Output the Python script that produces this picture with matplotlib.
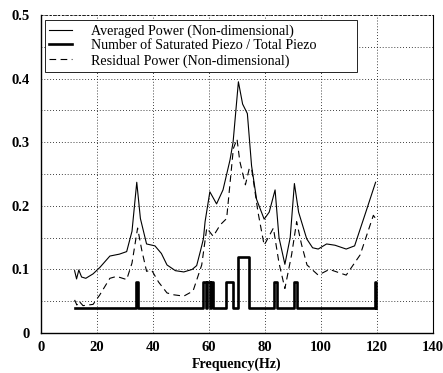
import matplotlib
matplotlib.use("Agg")
import matplotlib.pyplot as plt
import numpy as np

# Averaged power (non-dimensional) vs frequency
avg_freq = [12, 12.7, 13.5, 14.5, 16, 18.6, 21, 24.6, 28, 30.6, 32.5, 34.2, 35.5, 37.7,
            40.7, 43, 45, 48, 51, 54, 55.6, 57, 58, 58.6, 60.3, 62.7, 65, 67.5, 68.6,
            70.5, 72, 73.7, 75.2, 77, 79.7, 81.5, 83.6, 85, 87.1, 89, 90.5, 92, 94.9,
            97, 99, 102, 105, 109, 112, 116, 119.5]
avg_power = [0.098, 0.085, 0.099, 0.088, 0.086, 0.093, 0.103, 0.121, 0.124, 0.128, 0.16,
             0.237, 0.18, 0.14, 0.137, 0.125, 0.107, 0.098, 0.096, 0.1, 0.106, 0.13, 0.148,
             0.175, 0.222, 0.203, 0.225, 0.272, 0.3, 0.395, 0.36, 0.345, 0.263, 0.21, 0.179,
             0.19, 0.225, 0.15, 0.108, 0.15, 0.235, 0.19, 0.148, 0.134, 0.132, 0.14, 0.138,
             0.132, 0.137, 0.19, 0.237]

# Residual power (non-dimensional) vs frequency
res_freq = [12, 12.8, 13.6, 15, 18.6, 21, 24.6, 27, 30.6, 32.5, 34.5, 36, 37.7, 39.5,
            42, 45, 47.5, 51, 54.3, 57.4, 59.2, 61.5, 64, 66.3, 68.7, 70, 71, 73, 74.4,
            75.2, 77.5, 79.7, 83, 85, 87.1, 89.5, 91.3, 93, 95, 99, 103, 109, 114, 118.7, 119.5]
res_power = [0.052, 0.044, 0.05, 0.043, 0.045, 0.06, 0.086, 0.089, 0.084, 0.11, 0.165,
             0.13, 0.097, 0.099, 0.08, 0.063, 0.06, 0.058, 0.066, 0.107, 0.165, 0.152,
             0.17, 0.18, 0.29, 0.305, 0.27, 0.233, 0.259, 0.259, 0.19, 0.138, 0.165,
             0.11, 0.07, 0.123, 0.175, 0.14, 0.107, 0.091, 0.1, 0.091, 0.123, 0.185, 0.18]

# Number of saturated piezo / total piezo (piecewise constant, steps-post)
sat_freq = [12, 33.8, 34.8, 58, 58.9, 59.4, 60.3, 60.8, 61.5, 66, 68.6, 70.2, 74.3,
            83.3, 84.3, 90.2, 91.4, 119.3, 119.8]
sat_ratio = [0.04, 0.08, 0.04, 0.08, 0.04, 0.08, 0.04, 0.08, 0.04, 0.08, 0.04, 0.12, 0.04,
             0.08, 0.04, 0.08, 0.04, 0.08, 0.04]

x_ticks = [0, 20, 40, 60, 80, 100, 120, 140]
y_ticks = [0, 0.1, 0.2, 0.3, 0.4, 0.5]
y_tick_labels = ["0", "0.1", "0.2", "0.3", "0.4", "0.5"]

plt.rcParams["font.family"] = ["Liberation Serif", "DejaVu Serif"]

fig = plt.figure(figsize=(4.43, 3.73), dpi=100)
ax = fig.add_axes([41 / 443, 40 / 373, 392 / 443, 318 / 373])

ax.plot(avg_freq, avg_power, color="black", lw=0.8,
        label="Averaged Power (Non-dimensional)")
ax.plot(sat_freq, sat_ratio, color="black", lw=1.9, drawstyle="steps-post",
        label="Number of Saturated Piezo / Total Piezo")
ax.plot(res_freq, res_power, color="black", lw=0.8, ls=(0, (6, 4)),
        label="Residual Power (Non-dimensional)")

ax.set_xlim(0, 140)
ax.set_ylim(0, 0.5)
ax.set_xticks(x_ticks)
ax.set_yticks(y_ticks)
ax.set_yticklabels(y_tick_labels)
ax.set_yticks(np.arange(0.05, 0.5, 0.1), minor=True)
ax.tick_params(which="both", length=0, labelsize=10.5)
ax.tick_params(axis="y", pad=8)
ax.tick_params(axis="x", pad=6)
for lbl in ax.get_xticklabels() + ax.get_yticklabels():
    lbl.set_fontweight("bold")

ax.grid(True, axis="x", which="major", color="black", lw=0.6, ls=(0, (1, 2.5)))
ax.grid(True, axis="y", which="both", color="black", lw=0.6, ls=(0, (1, 2.5)))
ax.set_axisbelow(True)

for side in ("left", "bottom"):
    ax.spines[side].set_linewidth(1.0)
ax.spines["right"].set_linewidth(0.8)
ax.spines["top"].set_linewidth(0.6)
ax.spines["top"].set_linestyle((0, (2, 3)))

ax.set_xlabel("Frequency(Hz)", fontsize=10, fontweight="bold", labelpad=2)

# legend box spans a fixed width in the upper-left corner
leg = ax.legend(loc="upper left", bbox_to_anchor=(4 / 392, 1 - 5 / 318, 312 / 392, 0),
                mode="expand", fontsize=10.1,
                frameon=True, fancybox=False, edgecolor="black", framealpha=1,
                handlelength=1.65, handletextpad=1.35, labelspacing=0.12,
                borderpad=0.3, borderaxespad=0)
leg.get_frame().set_linewidth(0.6)

fig.savefig("out.png", dpi=100)
